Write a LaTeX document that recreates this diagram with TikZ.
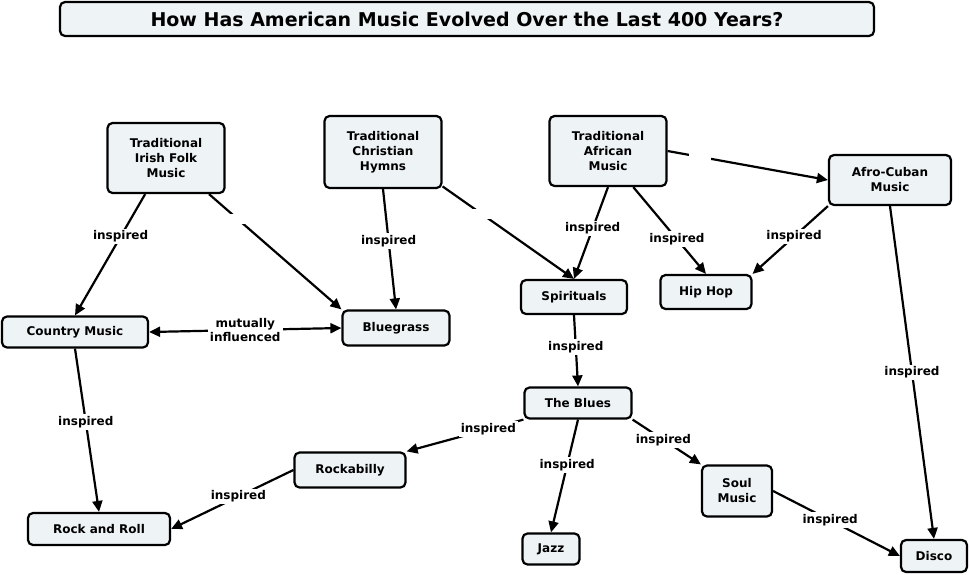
\documentclass[tikz,border=0pt]{standalone}
\usepackage{fontspec}
\setmainfont{DejaVu Sans}
\usetikzlibrary{arrows.meta}
\definecolor{boxfill}{HTML}{EEF3F5}
\tikzset{
  cbox/.style={draw=black, line width=2.2pt, rounded corners=5pt, fill=boxfill, align=center, font=\fontsize{12}{15}\selectfont\bfseries, inner sep=2pt},
  lbl/.style={fill=white, inner sep=2pt, align=center, font=\fontsize{12}{14}\selectfont\bfseries},
  gapn/.style={fill=white, inner sep=0pt, minimum width=22pt, minimum height=10pt},
  conn/.style={line width=2.2pt, -{Triangle[length=11pt,width=10pt]}},
  plain/.style={line width=2.2pt}
}
\begin{document}
\begin{tikzpicture}[x=1pt,y=-1pt]
\useasboundingbox (0,0) rectangle (970,574);
\node[cbox, minimum width=814pt, minimum height=34pt, font=\fontsize{19}{22}\selectfont\bfseries] (title) at (467,19) {How Has American Music Evolved Over the Last 400 Years?};
\node[cbox, minimum width=117pt, minimum height=70pt] (irish) at (166,158) {Traditional\\Irish Folk\\Music};
\node[cbox, minimum width=117pt, minimum height=72pt] (christ) at (383,152) {Traditional\\Christian\\Hymns};
\node[cbox, minimum width=117pt, minimum height=70pt] (afr) at (608,151) {Traditional\\African\\Music};
\node[cbox, minimum width=122pt, minimum height=50pt] (cuban) at (890,180) {Afro-Cuban\\Music};
\node[cbox, minimum width=146pt, minimum height=31pt] (country) at (75,332) {Country Music};
\node[cbox, minimum width=107pt, minimum height=35pt] (blue) at (396,328) {Bluegrass};
\node[cbox, minimum width=106pt, minimum height=34pt] (spir) at (574,297) {Spirituals};
\node[cbox, minimum width=91pt, minimum height=34pt] (hip) at (706,292) {Hip Hop};
\node[cbox, minimum width=107pt, minimum height=31pt] (blues) at (578,403) {The Blues};
\node[cbox, minimum width=111pt, minimum height=35pt] (rockab) at (350,470) {Rockabilly};
\node[cbox, minimum width=142pt, minimum height=32pt] (rock) at (99,529) {Rock and Roll};
\node[cbox, minimum width=57pt, minimum height=31pt] (jazz) at (551,549) {Jazz};
\node[cbox, minimum width=70pt, minimum height=51pt] (soul) at (737,491) {Soul\\Music};
\node[cbox, minimum width=66pt, minimum height=32pt] (disco) at (934,556) {Disco};

\draw[conn] (irish.240) -- node[lbl, pos=0.35]{inspired} (country.north);
\draw[conn] (irish.-40) -- node[gapn, pos=0.22]{} (blue.north west);
\draw[conn] (christ.south) -- node[lbl, pos=0.43]{inspired} (blue.north);
\draw[conn] (christ.-30) -- node[gapn, pos=0.3]{} (spir.north);
\draw[conn] (afr.south) -- node[lbl, pos=0.45]{inspired} (spir.north);
\draw[conn] (afr.-55) -- node[lbl, pos=0.6]{inspired} (hip.north);
\draw[conn] (afr.east) -- node[gapn, pos=0.2]{} (cuban.west);
\draw[conn] (cuban.south west) -- node[lbl, pos=0.45]{inspired} (hip.north east);
\draw[conn] (cuban.south) -- node[lbl, pos=0.5]{inspired} (disco.north);
\draw[conn, {Triangle[length=11pt,width=10pt]}-{Triangle[length=11pt,width=10pt]}] (country.east) -- node[lbl]{mutually\\influenced} (blue.west);
\draw[conn] (country.south) -- node[lbl, pos=0.45]{inspired} (rock.north);
\draw[conn] (spir.south) -- node[lbl, pos=0.45]{inspired} (blues.north);
\draw[conn] (blues.south west) -- node[lbl, pos=0.3]{inspired} (rockab.north east);
\draw[conn] (blues.south) -- node[lbl, pos=0.4]{inspired} (jazz.north);
\draw[conn] (blues.south east) -- node[lbl, pos=0.45]{inspired} (soul.north west);
\draw[conn] (rockab.west) -- node[lbl, pos=0.45]{inspired} (rock.east);
\draw[conn] (soul.east) -- node[lbl, pos=0.45]{inspired} (disco.west);
\end{tikzpicture}
\end{document}
